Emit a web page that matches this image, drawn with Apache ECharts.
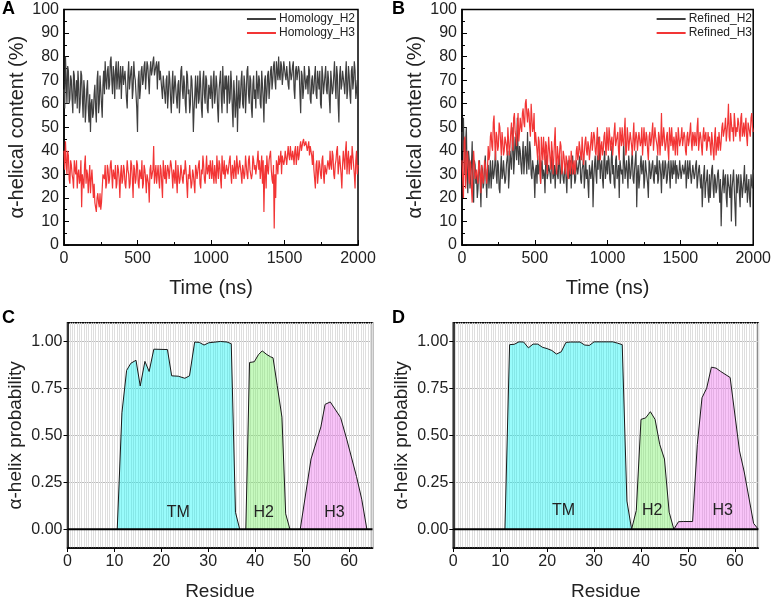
<!DOCTYPE html>
<html>
<head>
<meta charset="utf-8">
<script src="https://cdn.jsdelivr.net/npm/echarts@6.0.0/dist/echarts.min.js"></script>
<style>
html,body{margin:0;padding:0;background:#fff;}
#chart{width:774px;height:602px;}
</style>
</head>
<body>
<div id="chart"></div>
<script>
// ---------- DATA ----------
const TIME_STEP_NS = 5; // combined sampling: main samples at 0,10,... and mid samples at 5,15,...
const timeTicks = [0, 500, 1000, 1500, 2000];
const percentTicks = [0,10,20,30,40,50,60,70,80,90,100];

// samples at t = 0, 10, ..., 2000 ns
const homologyH2 = [
66,80,60,74,62,70,56,72,64,58,
68,60,72,54,66,58,70,52,48,62,
56,68,52,74,60,66,54,74,78,66,
76,68,80,64,72,74,66,78,70,62,
76,68,74,58,78,70,76,66,72,64,
48,74,66,76,70,78,72,76,64,78,
74,80,72,78,76,70,74,62,68,60,
72,64,70,56,74,66,72,58,70,64,
76,62,68,56,72,66,60,70,48,64,
58,72,62,68,54,74,60,70,56,66,
72,58,74,64,68,52,70,62,76,60,
66,56,72,62,68,50,64,60,48,70,
62,74,58,68,64,76,60,70,54,72,
66,74,62,70,58,68,52,72,64,74,
68,76,70,78,66,74,80,70,76,72,
78,70,76,66,74,72,78,62,76,70,
74,56,72,66,76,70,64,74,60,72,
66,76,62,70,74,58,72,68,76,64,
70,56,74,66,78,62,72,52,76,68,
74,64,78,66,72,60,76,70,74,66,
52];
// samples at t = 5, 15, ..., 1995 ns
const homologyH2Mid = [
58,70,76,60,72,62,74,60,70,74,
56,74,62,70,52,66,58,64,60,54,
64,58,70,56,72,60,68,64,70,74,
66,78,70,76,62,78,72,66,76,72,
68,74,62,72,66,74,62,78,70,58,
70,62,74,68,76,66,78,70,74,72,
78,72,76,66,78,74,66,72,64,70,
58,74,62,68,60,72,62,68,56,74,
66,72,60,74,64,56,72,62,58,72,
66,60,74,58,70,64,72,58,68,62,
64,70,60,72,58,66,74,56,66,72,
72,68,60,74,58,70,54,72,62,58,
70,60,72,56,74,64,72,58,68,62,
58,68,72,60,74,62,70,60,72,62,
74,66,76,70,78,70,72,78,68,78,
72,76,68,78,70,76,66,74,70,76,
64,74,62,76,66,72,76,62,70,64,
72,64,74,66,60,76,64,72,66,74,
62,74,64,72,68,76,60,72,66,74,
68,72,62,76,64,74,66,78,62,70];

const homologyH3 = [
40,44,30,38,26,34,28,36,30,24,
32,28,16,30,34,26,30,28,22,32,
20,18,14,22,16,15,24,30,34,26,
32,28,36,24,30,34,26,32,20,34,
28,32,24,36,30,26,34,20,32,28,
34,24,30,36,26,32,22,30,18,34,
28,42,30,26,34,24,32,20,30,34,
26,32,28,34,24,30,36,22,30,28,
34,26,30,32,20,28,34,26,30,22,
32,28,36,24,30,34,26,38,30,28,
32,36,26,30,38,28,34,24,32,36,
28,34,30,38,26,32,36,28,34,30,
36,26,32,30,34,28,38,32,30,36,
34,30,40,36,32,26,14,34,38,30,
36,32,26,7,20,34,38,36,30,38,
36,40,34,38,42,36,38,40,34,42,
38,44,40,45,42,44,40,38,42,34,
32,24,36,30,34,28,38,26,34,30,
36,40,32,38,28,36,42,34,38,24,
40,32,44,36,30,38,42,34,24,40,
34];
const homologyH3Mid = [
32,36,40,28,36,30,24,32,36,30,
26,36,30,24,38,32,22,34,28,26,
26,16,20,18,22,18,30,28,24,34,
26,34,30,32,28,24,34,28,30,26,
34,26,30,32,24,36,28,34,26,36,
26,32,28,24,34,28,30,26,32,28,
32,26,34,30,28,34,26,36,28,26,
34,28,36,30,32,26,28,34,26,34,
28,32,36,26,30,34,24,32,26,34,
28,34,26,32,38,28,32,30,34,36,
28,30,34,26,32,36,28,38,30,28,
34,30,36,30,34,28,32,38,30,36,
30,34,28,38,30,36,32,28,38,32,
30,36,32,28,38,36,30,24,32,36,
40,28,34,30,36,30,34,40,38,34,
40,34,42,36,38,40,34,42,38,36,
42,40,44,42,44,40,44,42,38,40,
28,34,26,36,30,36,30,34,30,36,
32,34,40,30,34,40,30,38,30,34,
36,40,30,40,36,32,38,30,36,30];

const refinedH2 = [
48,54,30,50,22,36,28,44,18,34,
30,24,36,16,32,26,38,20,34,30,
24,36,30,40,26,34,22,38,30,36,
28,34,24,40,32,50,36,42,54,34,
40,30,44,36,38,48,32,40,28,36,
20,34,38,30,26,36,32,22,38,30,
34,26,40,30,24,36,28,38,30,32,
26,34,22,36,30,24,38,32,28,36,
30,38,26,34,24,36,32,20,34,28,
16,34,30,38,46,28,36,24,40,32,
30,36,26,42,34,24,38,30,20,36,
32,44,28,36,24,34,30,40,26,36,
16,34,28,38,30,24,36,32,20,34,
30,36,26,32,38,28,34,22,36,30,
34,28,36,24,32,36,30,26,34,30,
36,28,34,30,24,36,32,30,26,34,
30,36,28,34,24,16,30,20,28,22,
30,26,34,20,28,24,32,18,8,26,
22,30,16,26,20,10,28,24,8,22,
30,16,26,20,34,24,18,28,16,26,
32];
const refinedH2Mid = [
40,36,44,30,40,24,34,22,36,26,
20,32,26,34,24,34,28,32,24,36,
30,28,34,30,36,24,32,28,36,26,
34,40,30,36,42,30,46,36,40,42,
34,38,30,42,30,36,44,30,36,30,
32,26,30,36,34,28,30,36,28,34,
30,36,28,34,32,30,36,26,36,28,
32,28,34,28,36,32,30,26,36,30,
36,28,32,38,30,28,26,34,28,36,
28,38,26,32,36,34,28,36,28,36,
38,28,36,30,26,36,28,34,36,30,
26,36,32,30,38,28,36,28,32,40,
30,24,34,30,36,28,32,26,36,28,
34,28,34,30,26,36,30,34,28,36,
26,34,30,36,28,30,36,34,28,36,
28,34,30,36,30,28,36,26,34,28,
34,24,32,28,30,24,34,26,32,18,
20,32,24,30,22,30,26,28,22,32,
28,20,30,24,30,24,32,16,30,28,
22,30,20,28,22,30,24,20,30,24];

const refinedH3 = [
36,20,46,30,38,26,34,18,40,28,
32,26,34,22,30,28,34,26,42,38,
48,40,55,36,46,42,50,38,44,40,
46,38,44,42,52,40,56,46,50,44,
54,48,58,50,62,52,56,46,54,50,
42,48,36,44,26,40,46,34,42,38,
46,32,40,36,50,30,38,34,42,32,
38,30,36,28,34,40,30,36,32,42,
38,44,36,40,34,46,38,42,36,48,
40,46,38,50,42,36,44,40,48,38,
44,50,40,46,38,52,42,48,36,46,
50,42,54,40,46,44,48,38,52,44,
46,40,48,44,38,50,42,46,36,48,
44,52,40,46,42,48,38,56,44,46,
42,48,36,46,50,40,44,48,38,46,
44,50,42,46,38,48,44,52,40,46,
48,42,54,44,46,38,50,44,40,48,
46,38,44,36,50,42,40,48,44,52,
46,54,48,60,44,52,50,56,46,48,
52,44,56,48,46,54,42,50,46,56,
48];
const refinedH3Mid = [
28,44,24,40,30,36,24,32,34,30,
28,36,30,34,26,36,30,32,36,46,
42,52,44,48,40,52,44,48,38,46,
42,50,38,48,44,54,48,42,56,48,
50,56,52,60,56,58,50,60,48,56,
48,40,46,32,46,36,40,44,30,46,
36,44,30,44,36,42,34,44,30,40,
34,38,30,38,30,36,34,30,40,36,
44,38,46,34,44,40,44,36,44,40,
48,40,44,36,46,42,38,46,42,50,
40,46,44,38,48,42,46,40,50,42,
44,48,38,50,40,48,42,46,40,48,
40,48,42,50,44,44,48,40,46,42,
48,40,50,44,38,46,44,42,50,40,
46,40,50,42,44,46,38,44,50,42,
46,42,48,40,46,42,48,44,48,42,
44,50,40,48,42,46,44,48,42,44,
42,48,40,46,38,46,48,40,50,46,
50,44,52,46,56,48,44,52,50,54,
48,54,46,52,50,46,52,48,54,50];

const residueTicks = [0,10,20,30,40,50,60];
const probTicks = [0, 0.25, 0.5, 0.75, 1];

// [residue, alpha-helix probability]
const homologyTM = [[10.6,0],[11.6,0.62],[12.6,0.846],[13.5,0.884],[14.6,0.90],[15.5,0.763],[16.5,0.894],[17.4,0.84],[18.4,0.959],[21.3,0.957],[22.2,0.817],[23.6,0.815],[25.0,0.804],[26.0,0.817],[27.1,0.997],[28.1,0.995],[29.1,0.981],[30.1,0.993],[32.6,1.0],[34.0,0.997],[34.9,0.988],[35.8,0.09],[36.7,0]];
const homologyH2prob = [[38.0,0],[38.8,0.888],[39.8,0.892],[40.7,0.93],[41.5,0.95],[42.5,0.93],[43.3,0.918],[43.8,0.913],[44.7,0.765],[45.7,0.597],[46.5,0.082],[47.4,0]];
const homologyH3prob = [[49.6,0],[51.9,0.374],[54.0,0.545],[54.9,0.665],[56.0,0.678],[58.2,0.595],[59.5,0.48],[61.6,0.28],[62.7,0.16],[63.8,0]];

const refinedTM = [[11,0],[12,0.983],[13,0.985],[14,0.998],[15,0.997],[16,0.966],[17,0.986],[18,0.986],[19,0.969],[20,0.962],[21,0.952],[22,0.933],[23,0.945],[24,0.995],[25,0.997],[27,0.997],[28,0.981],[29,0.979],[30,0.998],[34,0.998],[35,0.991],[36,0.983],[37,0.15],[38,0]];
const refinedH2prob = [[38,0],[39,0.10],[40,0.585],[41,0.593],[42,0.626],[43,0.585],[44,0.451],[45,0.374],[46,0.091],[47,0]];
const refinedH3prob = [[47,0],[48,0.04],[49,0.041],[51,0.041],[52,0.451],[53,0.70],[54,0.751],[55,0.863],[56,0.858],[57,0.84],[59,0.808],[61,0.417],[62,0.305],[64,0.031],[65,0]];

const regionNames = ['TM','H2','H3'];
const homologyLabelAt = [[23.6,0.09],[41.8,0.09],[56.9,0.09]];
const refinedLabelAt = [[23.5,0.1],[42.4,0.1],[57.4,0.1]];

// ---------- CHART ----------
const FONT = 'Liberation Sans, Arial, sans-serif';
function interleave(main, mid){
  const out = [];
  main.forEach((v,i)=>{ out.push(v); if (i < mid.length) out.push(mid[i]); });
  return out.map((v,i)=>[i*TIME_STEP_NS, v]);
}
const chart = echarts.init(document.getElementById('chart'), null, {renderer:'canvas'});

const grids = [
  {left:64, top:9.5, width:294, height:235.5},
  {left:462, top:9.5, width:294, height:235.5},
  {left:67.5, top:322.7, width:305, height:232.3},
  {left:453.3, top:322.7, width:305, height:232.3}
].map(g => Object.assign({show:true, borderColor:'#000', borderWidth:1.5, backgroundColor:'transparent'}, g));

function timeX(gi){
  return {gridIndex:gi, type:'value', min:0, max:2000, interval:500,
    axisLine:{onZero:false, lineStyle:{color:'#000', width:1.5}},
    axisTick:{inside:true, length:5, lineStyle:{color:'#000', width:1}},
    minorTick:{show:true, splitNumber:2, length:3, lineStyle:{color:'#000'}},
    axisLabel:{fontSize:16, color:'#222', margin:6, fontFamily:FONT, formatter: v => String(v),
      customValues:timeTicks},
    splitLine:{show:false},
    name:'Time (ns)', nameLocation:'middle', nameGap:33,
    nameTextStyle:{fontSize:20, color:'#222', fontFamily:FONT}};
}
function pctY(gi){
  return {gridIndex:gi, type:'value', min:0, max:100, interval:10,
    axisLine:{lineStyle:{color:'#000', width:1.5}},
    axisTick:{inside:true, length:5, lineStyle:{color:'#000'}},
    minorTick:{show:true, splitNumber:2, length:3, lineStyle:{color:'#000'}},
    axisLabel:{fontSize:16, color:'#222', margin:5, fontFamily:FONT, customValues:percentTicks},
    splitLine:{show:false},
    name:'α-helical content (%)', nameLocation:'middle', nameGap:37,
    nameTextStyle:{fontSize:20, color:'#222', fontFamily:FONT}};
}
function resX(gi){
  return {gridIndex:gi, type:'value', min:0, max:65, interval:10,
    axisLine:{onZero:false, lineStyle:{color:'#000', width:1.5}},
    axisTick:{show:true, length:4, customValues:residueTicks, lineStyle:{color:'#000'}},
    axisLabel:{fontSize:16, color:'#222', margin:6, fontFamily:FONT, customValues:residueTicks},
    splitLine:{show:false},
    name:'Residue', nameLocation:'middle', nameGap:34,
    nameTextStyle:{fontSize:19, color:'#222', fontFamily:FONT}};
}
function resGridX(gi){
  return {gridIndex:gi, type:'value', min:0, max:65, interval:0.5, position:'top',
    axisLine:{show:false, onZero:false}, axisTick:{show:false}, axisLabel:{show:false},
    splitLine:{show:true, lineStyle:{color:'#dedede', width:1}}};
}
function probY(gi){
  return {gridIndex:gi, type:'value', min:-0.1, max:1.1,
    axisLine:{lineStyle:{color:'#000', width:1.5}},
    axisTick:{show:true, length:4, customValues:probTicks, lineStyle:{color:'#000'}},
    axisLabel:{fontSize:16, color:'#222', margin:5, fontFamily:FONT, customValues:probTicks,
      formatter: v => Number(v).toFixed(2)},
    splitLine:{show:true, lineStyle:{color:'#bdbdbd', width:1}},
    name:'α-helix probability', nameLocation:'middle', nameGap:42,
    nameTextStyle:{fontSize:19, color:'#222', fontFamily:FONT}};
}

const xAxes = [timeX(0), timeX(1), resX(2), resX(3), resGridX(2), resGridX(3)];
const yAxes = [pctY(0), pctY(1), probY(2), probY(3)];

function trace(name, main, mid, color, xi, yi){
  return {name, type:'line', xAxisIndex:xi, yAxisIndex:yi, data:interleave(main, mid),
    symbol:'none', lineStyle:{color, width:1.2}, itemStyle:{color}, animation:false, sampling:null};
}
function region(name, data, fill, xi, yi, labelAt){
  return {name, type:'line', xAxisIndex:xi, yAxisIndex:yi, data, symbol:'none',
    lineStyle:{color:'#1a1a1a', width:1}, areaStyle:{color:fill, opacity:1},
    itemStyle:{color:'#1a1a1a'}, animation:false, z:3,
    markPoint:{symbol:'circle', symbolSize:0, animation:false,
      label:{show:true, position:'inside', formatter:name, color:'#222', fontSize:16, fontFamily:FONT},
      data:[{coord:labelAt}]}};
}
function baseline(xi, yi){
  return {name:'baseline'+xi, type:'line', xAxisIndex:xi, yAxisIndex:yi, data:[[0,0],[65,0]],
    symbol:'none', lineStyle:{color:'#000', width:2}, animation:false, z:5, silent:true};
}

const GRAY = '#3f3f3f', RED = '#f23535';
const fills = ['rgba(0,245,245,0.4)','rgba(120,240,100,0.42)','rgba(240,100,240,0.38)'];

const series = [
  trace('Homology_H2', homologyH2, homologyH2Mid, GRAY, 0, 0),
  trace('Homology_H3', homologyH3, homologyH3Mid, RED, 0, 0),
  trace('Refined_H2', refinedH2, refinedH2Mid, GRAY, 1, 1),
  trace('Refined_H3', refinedH3, refinedH3Mid, RED, 1, 1),
  region(regionNames[0], homologyTM, fills[0], 2, 2, homologyLabelAt[0]),
  region(regionNames[1], homologyH2prob, fills[1], 2, 2, homologyLabelAt[1]),
  region(regionNames[2], homologyH3prob, fills[2], 2, 2, homologyLabelAt[2]),
  region(regionNames[0], refinedTM, fills[0], 3, 3, refinedLabelAt[0]),
  region(regionNames[1], refinedH2prob, fills[1], 3, 3, refinedLabelAt[1]),
  region(regionNames[2], refinedH3prob, fills[2], 3, 3, refinedLabelAt[2]),
  baseline(2, 2), baseline(3, 3)
];

function legendFor(names, right){
  return {data:names, orient:'vertical', right, top:13, itemGap:2, itemWidth:29, itemHeight:2,
    icon:'rect', textStyle:{fontSize:12, color:'#222', fontFamily:FONT, padding:[0,0,0,-2]},
    selectedMode:false, padding:0};
}

const letter = (t, left, top) => ({type:'text', left, top,
  style:{text:t, font:'bold 18px ' + FONT, fill:'#000'}});

chart.setOption({
  backgroundColor:'#fff',
  animation:false,
  grid:grids,
  xAxis:xAxes,
  yAxis:yAxes,
  legend:[legendFor(['Homology_H2','Homology_H3'], 419), legendFor(['Refined_H2','Refined_H3'], 22)],
  series,
  graphic:[letter('A',2,0), letter('B',392,0), letter('C',2,309), letter('D',392,309)]
});
</script>
</body>
</html>
